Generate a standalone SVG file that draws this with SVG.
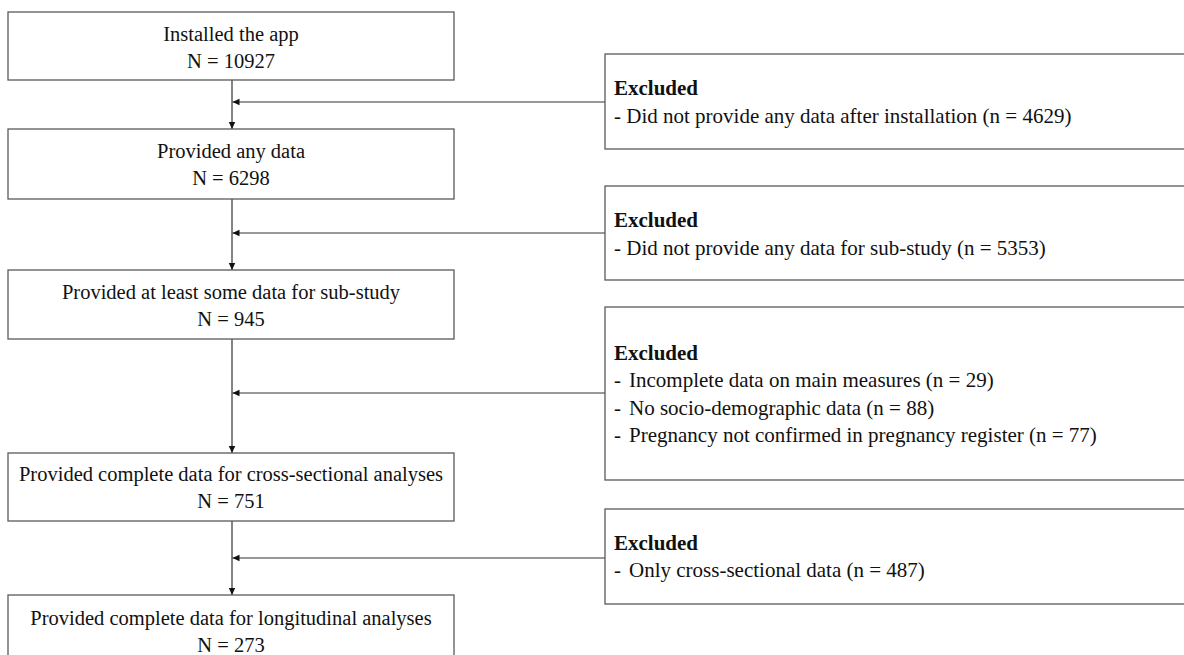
<svg xmlns="http://www.w3.org/2000/svg" width="1184" height="655" viewBox="0 0 1184 655">
<defs>
<style>
.box{fill:#fff;stroke:#5a5a5a;stroke-width:1.3}
.ln{fill:none;stroke:#333;stroke-width:1.2}
.t{font-family:"Liberation Serif","Times New Roman",serif;font-size:20.5px;fill:#111;text-anchor:middle}
.r{font-family:"Liberation Serif","Times New Roman",serif;font-size:21px;fill:#111}
.b{font-weight:bold}
</style>
<marker id="ah" markerWidth="8" markerHeight="8" refX="7" refY="4" orient="auto" markerUnits="userSpaceOnUse">
<path d="M0,0.8 L7,4 L0,7.2 Z" fill="#111"/>
</marker>
</defs>
<rect width="1184" height="655" fill="#fff"/>
<g id="connectors">
<line class="ln" x1="232" y1="80" x2="232" y2="129" marker-end="url(#ah)"/>
<line class="ln" x1="605" y1="102" x2="232.5" y2="102" marker-end="url(#ah)"/>
<line class="ln" x1="232" y1="199" x2="232" y2="270" marker-end="url(#ah)"/>
<line class="ln" x1="605" y1="233" x2="232.5" y2="233" marker-end="url(#ah)"/>
<line class="ln" x1="232" y1="339" x2="232" y2="453" marker-end="url(#ah)"/>
<line class="ln" x1="605" y1="393" x2="232.5" y2="393" marker-end="url(#ah)"/>
<line class="ln" x1="232" y1="521" x2="232" y2="595" marker-end="url(#ah)"/>
<line class="ln" x1="605" y1="558" x2="232.5" y2="558" marker-end="url(#ah)"/>
</g>
<g id="n1"><rect class="box" x="8" y="12" width="446" height="68"/>
<text class="t" x="231" y="41">Installed the app</text><text class="t" x="231" y="68">N = 10927</text></g>
<g id="n2"><rect class="box" x="8" y="129" width="446" height="70"/>
<text class="t" x="231" y="158">Provided any data</text><text class="t" x="231" y="185">N = 6298</text></g>
<g id="n3"><rect class="box" x="8" y="270" width="446" height="69"/>
<text class="t" x="231" y="299">Provided at least some data for sub-study</text><text class="t" x="231" y="325.5">N = 945</text></g>
<g id="n4"><rect class="box" x="8" y="453" width="446" height="68"/>
<text class="t" x="231" y="481">Provided complete data for cross-sectional analyses</text><text class="t" x="231" y="508">N = 751</text></g>
<g id="n5"><rect class="box" x="8" y="595" width="446" height="80"/>
<text class="t" x="231" y="625">Provided complete data for longitudinal analyses</text><text class="t" x="231" y="652">N = 273</text></g>
<g id="e1"><rect class="box" x="605" y="54" width="600" height="95"/>
<text class="r b" x="614" y="95">Excluded</text>
<text class="r" x="614" y="122.5">- Did not provide any data after installation (n = 4629)</text></g>
<g id="e2"><rect class="box" x="605" y="186" width="600" height="94"/>
<text class="r b" x="614" y="227">Excluded</text>
<text class="r" x="614" y="254.5">- Did not provide any data for sub-study (n = 5353)</text></g>
<g id="e3"><rect class="box" x="605" y="307" width="600" height="173"/>
<text class="r b" x="614" y="360">Excluded</text>
<text class="r" x="614" y="387">-</text><text class="r" x="629" y="387">Incomplete data on main measures (n = 29)</text>
<text class="r" x="614" y="414.5">-</text><text class="r" x="629" y="414.5">No socio-demographic data (n = 88)</text>
<text class="r" x="614" y="442">-</text><text class="r" x="629" y="442">Pregnancy not confirmed in pregnancy register (n = 77)</text></g>
<g id="e4"><rect class="box" x="605" y="509" width="600" height="95"/>
<text class="r b" x="614" y="550">Excluded</text>
<text class="r" x="614" y="577">-</text><text class="r" x="629" y="577">Only cross-sectional data (n = 487)</text></g>
</svg>
